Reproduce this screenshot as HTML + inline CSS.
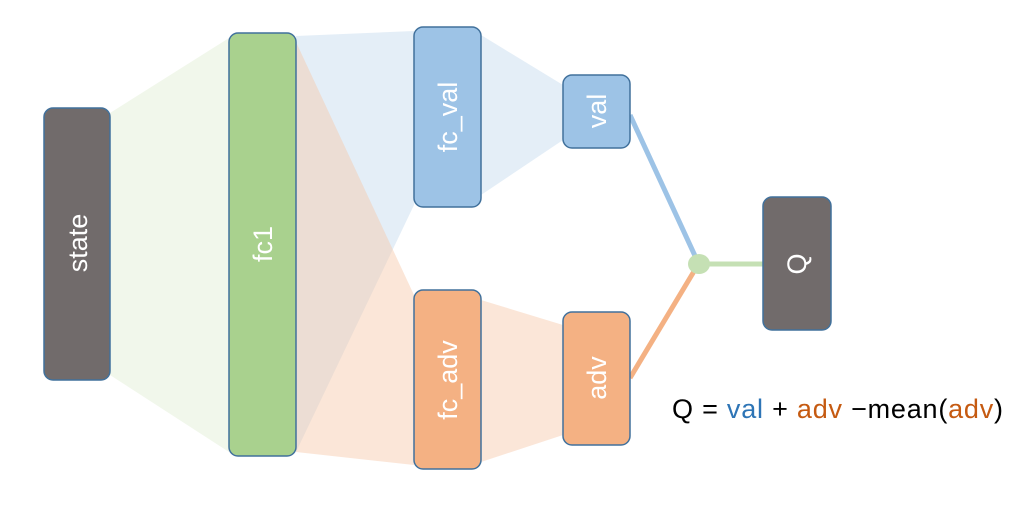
<!DOCTYPE html>
<html><head><style>
body{margin:0;background:#fff;}
svg text{font-family:"Liberation Sans",sans-serif;}
</style></head><body>
<svg width="1031" height="511" viewBox="0 0 1031 511" xmlns="http://www.w3.org/2000/svg">
<polygon points="110,113 229,38 229,452 110,375" fill="#eef5e6" opacity="0.8"/>
<polygon points="296,36 414,31 414,205 296,452" fill="#c9ddf0" opacity="0.5"/>
<polygon points="296,42 414,295 414,465 296,452" fill="#f7c7a8" opacity="0.45"/>
<polygon points="481,35 563,85 563,140 481,195" fill="#c9ddf0" opacity="0.5"/>
<polygon points="481,300 563,325 563,435 481,462" fill="#f7c7a8" opacity="0.45"/>
<line x1="630" y1="115" x2="696" y2="258" stroke="#9dc3e6" stroke-width="5"/>
<line x1="630" y1="378" x2="696" y2="268" stroke="#f4b183" stroke-width="5"/>
<line x1="699" y1="264" x2="764" y2="264" stroke="#c5e0b4" stroke-width="5"/>
<ellipse cx="699" cy="264" rx="11" ry="10" fill="#c5e0b4"/>
<g stroke="#41719c" stroke-width="1.5">
<rect x="44" y="108" width="66" height="272" rx="9" fill="#716b6b"/>
<rect x="229" y="33" width="67" height="423" rx="9" fill="#a9d18e"/>
<rect x="414" y="27" width="67" height="180" rx="9" fill="#9dc3e6"/>
<rect x="563" y="75" width="67" height="73" rx="9" fill="#9dc3e6"/>
<rect x="414" y="290" width="67" height="179" rx="9" fill="#f4b183"/>
<rect x="563" y="312" width="67" height="133" rx="9" fill="#f4b183"/>
<rect x="763" y="197" width="68" height="133" rx="9" fill="#716b6b"/>
</g>
<g fill="#fff" font-size="27" text-anchor="middle">
<text transform="translate(87,243) rotate(-90)">state</text>
<text transform="translate(272,244) rotate(-90)">fc1</text>
<text transform="translate(457,117) rotate(-90)">fc_val</text>
<text transform="translate(606,111) rotate(-90)">val</text>
<text transform="translate(457,380) rotate(-90)">fc_adv</text>
<text transform="translate(606,378) rotate(-90)">adv</text>
<text transform="translate(806,264) rotate(-90)">Q</text>
</g>
<text x="672" y="418" font-size="27" fill="#000" textLength="331" lengthAdjust="spacing">Q = <tspan fill="#2e75b6">val</tspan> + <tspan fill="#c55a11">adv</tspan> −mean(<tspan fill="#c55a11">adv</tspan>)</text>
</svg>
</body></html>
